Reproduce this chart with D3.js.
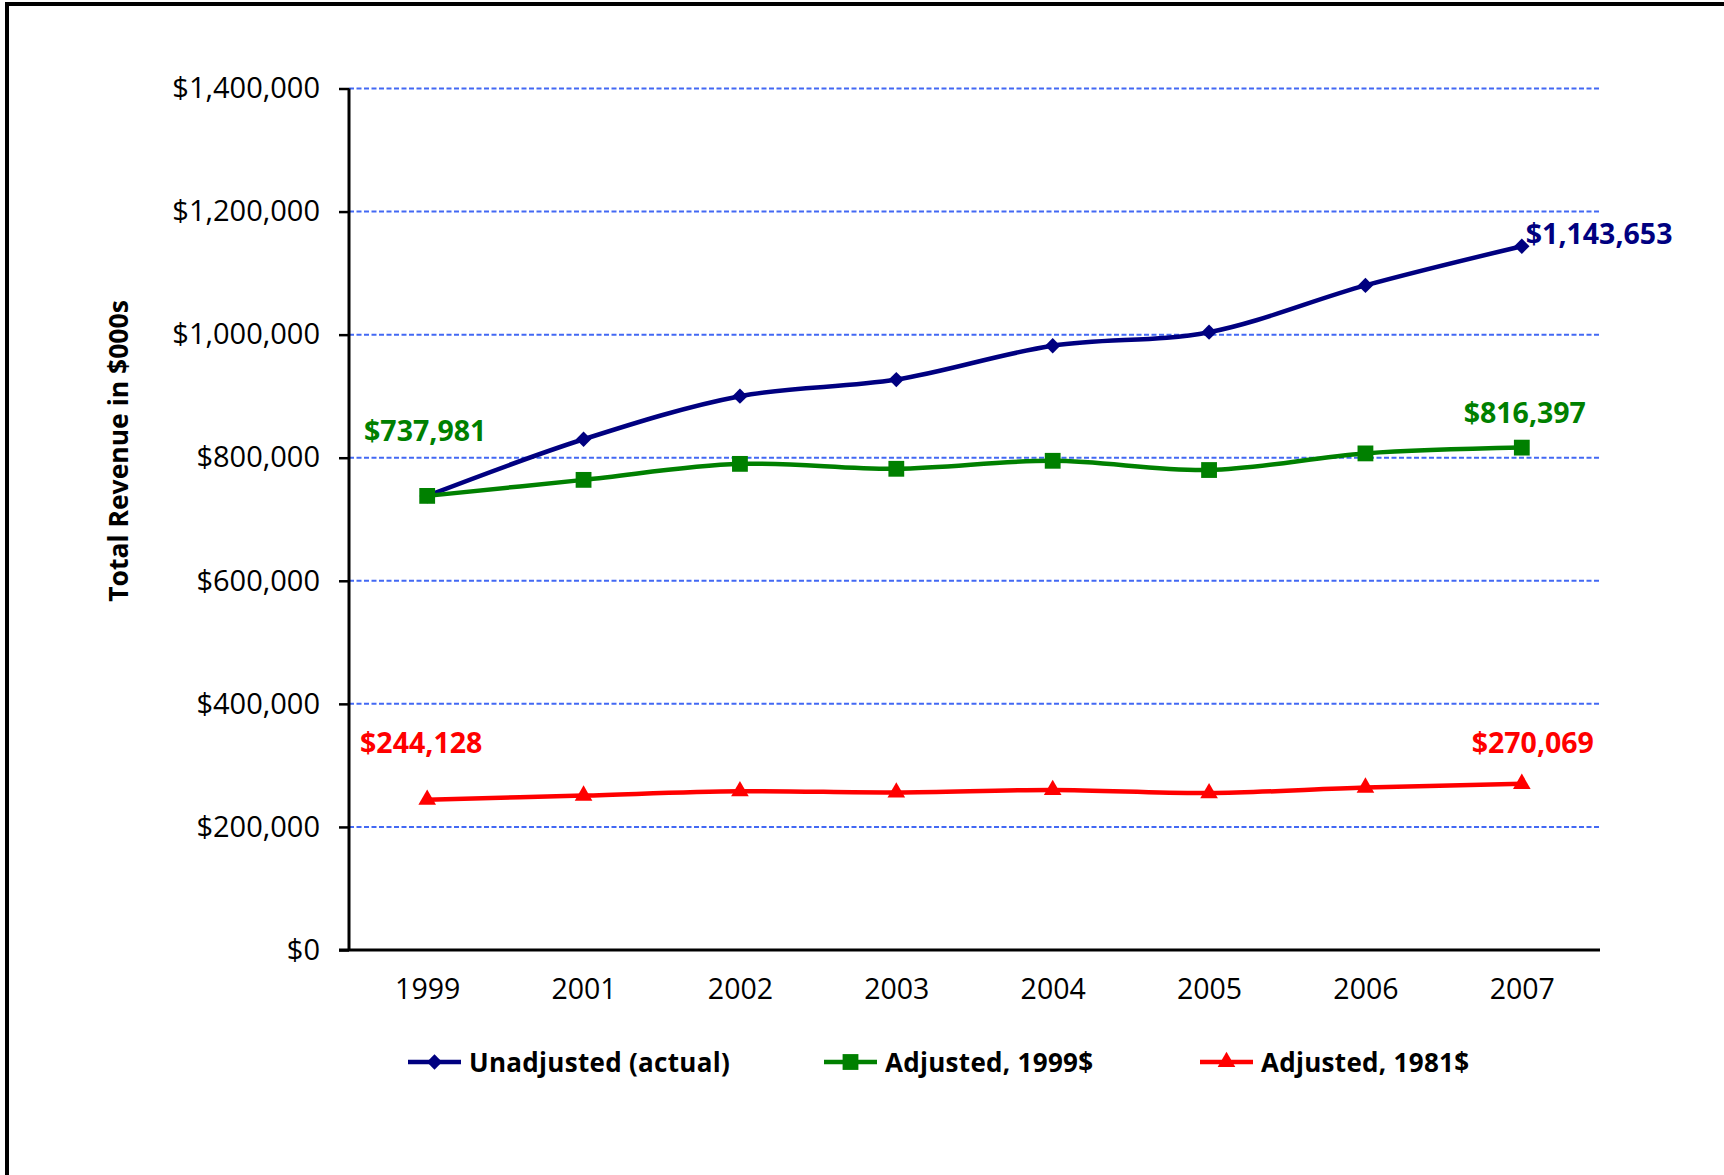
<!DOCTYPE html>
<html>
<head>
<meta charset="utf-8">
<script src="https://cdn.jsdelivr.net/npm/d3@7/dist/d3.min.js"></script>
<style>
  html, body { margin: 0; padding: 0; background: #fff; }
  svg { display: block; font-family: "Open Sans", "Noto Sans", sans-serif; }
</style>
</head>
<body>
<svg id="chart" width="1724" height="1175"></svg>
<script>
// Survey years on the category axis
const years = ["1999", "2001", "2002", "2003", "2004", "2005", "2006", "2007"];

// Total revenue, thousands of dollars
const unadjusted = [737981, 830000, 900000, 927000, 982000, 1004000, 1080000, 1143653];
const adjusted1999 = [737981, 764000, 790000, 782000, 795000, 780000, 807000, 816397];
const adjusted1981 = [244128, 251000, 258000, 256000, 260000, 255000, 264000, 270069];

const seriesNames = ["Unadjusted (actual)", "Adjusted, 1999$", "Adjusted, 1981$"];
const yTicks = [0, 200000, 400000, 600000, 800000, 1000000, 1200000, 1400000];

const colors = ["#000080", "#008000", "#FF0000"];
const markerShapes = [d3.symbolDiamond2, d3.symbolSquare, d3.symbolTriangle];
const markerSizes = [150, 250, 135];

const svg = d3.select("#chart");

// outer frame of the chart area
svg.append("rect")
  .attr("x", 7).attr("y", 4)
  .attr("width", 1800).attr("height", 1300)
  .attr("fill", "none").attr("stroke", "#000").attr("stroke-width", 4);

const plot = { left: 349, right: 1600, top: 88.5, bottom: 950 };

const x = d3.scalePoint().domain(years).range([plot.left, plot.right]).padding(0.5);
const y = d3.scaleLinear().domain([0, 1400000]).range([plot.bottom, plot.top]);

const fmt = v => "$" + d3.format(",")(v);

// dashed horizontal gridlines
svg.append("g")
  .selectAll("line")
  .data(yTicks.filter(d => d > 0))
  .join("line")
  .attr("x1", plot.left).attr("x2", plot.right)
  .attr("y1", d => y(d)).attr("y2", d => y(d))
  .attr("stroke", "#4369f4").attr("stroke-width", 2)
  .attr("stroke-dasharray", "5,2.5");

// value axis
const yAxis = svg.append("g")
  .attr("transform", `translate(${plot.left},0)`)
  .call(d3.axisLeft(y).tickValues(yTicks).tickFormat(fmt).tickSize(10).tickPadding(19));
yAxis.select(".domain").attr("stroke", "#000").attr("stroke-width", 3)
  .attr("d", `M0,${plot.top}V${plot.bottom}`);
yAxis.selectAll(".tick line").attr("stroke", "#000").attr("stroke-width", 2.5);
yAxis.selectAll(".tick text")
  .attr("font-family", "Open Sans").attr("font-size", 29).attr("fill", "#000");

// category axis
const xAxis = svg.append("g")
  .attr("transform", `translate(0,${plot.bottom})`)
  .call(d3.axisBottom(x).tickSize(0).tickPadding(29));
xAxis.select(".domain").attr("stroke", "#000").attr("stroke-width", 3)
  .attr("d", `M${plot.left - 10},0H${plot.right}`);
xAxis.selectAll(".tick text")
  .attr("font-family", "Open Sans").attr("font-size", 28.5).attr("fill", "#000");

// axis title
svg.append("text")
  .attr("transform", "translate(128,451) rotate(-90)")
  .attr("text-anchor", "middle")
  .attr("font-size", 26.5).attr("font-weight", "bold").attr("fill", "#000")
  .text("Total Revenue in $000s");

const allSeries = [unadjusted, adjusted1999, adjusted1981];

const line = d3.line()
  .x((d, i) => x(years[i]))
  .y(d => y(d))
  .curve(d3.curveCatmullRom.alpha(0));

allSeries.forEach((vals, s) => {
  svg.append("path")
    .datum(vals)
    .attr("d", line)
    .attr("fill", "none")
    .attr("stroke", colors[s])
    .attr("stroke-width", 4.5);
  svg.append("g")
    .selectAll("path")
    .data(vals)
    .join("path")
    .attr("transform", (d, i) => `translate(${x(years[i])},${y(d)})`)
    .attr("d", d3.symbol().type(markerShapes[s]).size(markerSizes[s]))
    .attr("fill", colors[s]);
});

// value labels at the first and last years
const labels = [
  { s: 0, i: 7, dx: 4, dy: -2, anchor: "start" },
  { s: 1, i: 0, dx: -2, dy: -55, anchor: "middle" },
  { s: 1, i: 7, dx: 3, dy: -25, anchor: "middle" },
  { s: 2, i: 0, dx: -6, dy: -47, anchor: "middle" },
  { s: 2, i: 7, dx: 11, dy: -31, anchor: "middle" }
];
svg.append("g")
  .selectAll("text")
  .data(labels)
  .join("text")
  .attr("x", d => x(years[d.i]) + d.dx)
  .attr("y", d => y(allSeries[d.s][d.i]) + d.dy)
  .attr("text-anchor", d => d.anchor)
  .attr("font-size", 28.5).attr("font-weight", "bold")
  .attr("fill", d => colors[d.s])
  .text(d => fmt(allSeries[d.s][d.i]));

// legend
const legendX = [408, 824, 1200];
const legend = svg.append("g");
legendX.forEach((lx, s) => {
  const g = legend.append("g").attr("transform", `translate(${lx},1062)`);
  g.append("line").attr("x1", 0).attr("x2", 53).attr("y1", 0).attr("y2", 0)
    .attr("stroke", colors[s]).attr("stroke-width", 4.5);
  g.append("path").attr("transform", "translate(26.5,0)")
    .attr("d", d3.symbol().type(markerShapes[s]).size(markerSizes[s]))
    .attr("fill", colors[s]);
  g.append("text").attr("x", 61).attr("y", 10)
    .attr("font-size", 26).attr("font-weight", "bold").attr("fill", "#000")
    .attr("letter-spacing", 0.3)
    .text(seriesNames[s]);
});
</script>
</body>
</html>
